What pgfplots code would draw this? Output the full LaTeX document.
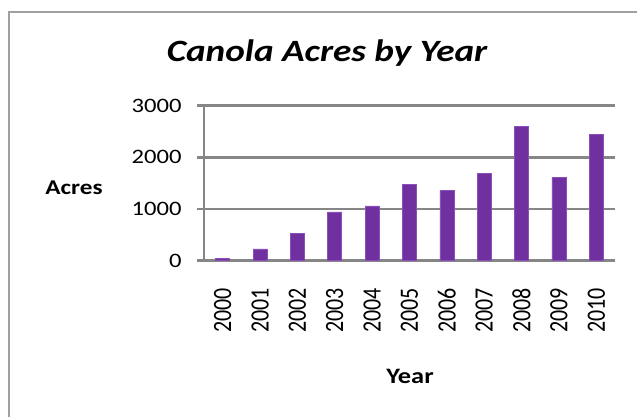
\documentclass[border=0pt]{standalone}
\usepackage{graphicx}
\usepackage{fontspec}
\setmainfont{Carlito}
\usepackage{pgfplots}
\pgfplotsset{compat=1.18}

\definecolor{barpurple}{HTML}{7030A0}
\definecolor{baredge}{HTML}{8A4FB8}
\definecolor{gridgray}{HTML}{868686}
\definecolor{framegray}{HTML}{A0A0A0}

% the reference is stretched sideways a little, so is the text here
\newcommand{\hs}[1]{\scalebox{1.2}[1]{#1}}

\begin{document}
\begin{tikzpicture}
\path[use as bounding box] (0pt,0pt) rectangle (637pt,416pt);
\draw[framegray, line width=2pt] (9pt,-5pt) -- (9pt,404pt) -- (650pt,404pt);

\node[font=\fontsize{31}{31}\selectfont\bfseries\itshape, anchor=base]
  at (327pt,354pt) {\hs{Canola Acres by Year}};
\node[font=\fontsize{21}{21}\selectfont\bfseries] at (74pt,228pt) {\hs{Acres}};
\node[font=\fontsize{22}{22}\selectfont\bfseries] at (410pt,40pt) {\hs{Year}};

\begin{axis}[
    at={(204pt,155.3pt)}, anchor=south west,
    scale only axis,
    width=411pt, height=155pt,
    xmin=1999.5, xmax=2010.5,
    ymin=0, ymax=3000,
    ytick={0,1000,2000,3000},
    xtick={2000,...,2010},
    minor xtick={1999.5,2000.5,...,2010.5},
    axis x line*=bottom, axis y line*=left,
    axis line style={gridgray, line width=2.5pt},
    ymajorgrids,
    grid style={gridgray, line width=2.5pt},
    tick align=outside,
    major tick length=7pt, minor tick length=9pt,
    xtick style={draw=none},
    ytick style={gridgray, line width=2.5pt},
    minor x tick style={gridgray, line width=2.5pt},
    /pgf/number format/assume math mode=true,
    yticklabel={\hs{\pgfmathprintnumber[1000 sep={},fixed,precision=0]{\tick}}},
    xticklabel={\hs{\rotatebox{90}{\pgfmathprintnumber[1000 sep={},fixed,precision=0]{\tick}}}},
    yticklabel style={font=\fontsize{20.5}{20.5}\selectfont, anchor=east, xshift=-12pt},
    xticklabel style={font=\fontsize{22}{22}\selectfont, anchor=north, yshift=-17pt},
    ybar, bar width=14pt,
    clip=false,
]
\addplot[fill=barpurple, draw=baredge, line width=0.6pt] coordinates {
    (2000,40) (2001,230) (2002,530) (2003,945) (2004,1060) (2005,1470)
    (2006,1360) (2007,1695) (2008,2600) (2009,1620) (2010,2450)
};
\end{axis}
\end{tikzpicture}
\end{document}
